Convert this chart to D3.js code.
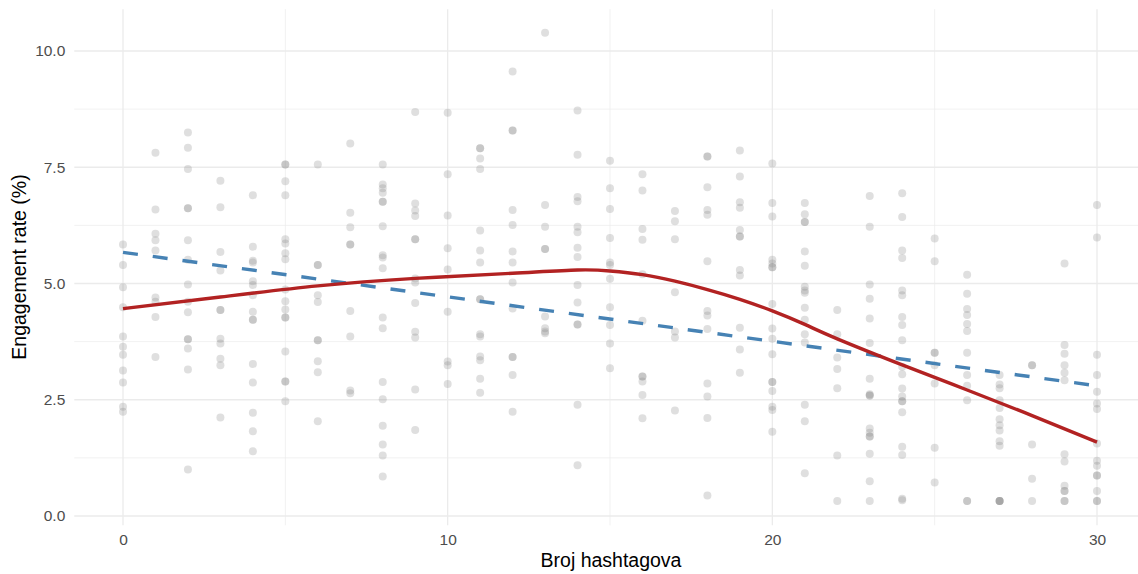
<!DOCTYPE html>
<html lang="hr">
<head>
    <meta charset="UTF-8"/>
    <title>Engagement rate vs broj hashtagova</title>
    <script src="https://d3js.org/d3.v7.min.js" charset="utf-8"></script>
    <style type="text/css">
        body { margin: 0; background: #fff; }
        text { font-family: "Liberation Sans", Arial, sans-serif; }
        .grid line { stroke: #ebebeb; }
        .tick-label { fill: #4d4d4d; font-size: 15.5px; }
        .axis-title { fill: #000; font-size: 19.5px; }
    </style>
</head>
<body>
<svg width="1138" height="574"></svg>

<script type="text/javascript">
    // engagement rate (%) per post, grouped by number of hashtags (index = count)
    var hashtagCounts = d3.range(0, 31);
    var rates = [
        [5.84, 5.40, 4.92, 4.49, 3.86, 3.64, 3.47, 3.13, 2.87, 2.35, 2.24],
        [7.81, 6.59, 6.07, 5.93, 5.71, 4.70, 4.61, 4.28, 3.42],
        [8.25, 7.92, 7.46, 6.62, 6.62, 5.93, 5.51, 4.98, 4.61, 4.38, 3.80, 3.80, 3.60, 3.15, 1.00],
        [7.21, 6.64, 5.68, 5.28, 4.43, 4.43, 3.81, 3.71, 3.38, 3.24, 2.12],
        [6.90, 5.79, 5.49, 5.45, 5.05, 4.97, 4.75, 4.39, 4.22, 4.22, 3.27, 2.87, 2.22, 1.82, 1.39],
        [7.56, 7.56, 7.20, 6.90, 5.95, 5.86, 5.65, 5.52, 4.87, 4.62, 4.44, 4.27, 4.27, 3.54, 2.89, 2.89, 2.47],
        [7.56, 5.40, 5.40, 4.75, 4.60, 3.78, 3.78, 3.33, 3.09, 2.04],
        [8.01, 6.52, 6.21, 5.84, 5.84, 4.41, 3.86, 2.70, 2.64],
        [7.56, 7.13, 7.05, 6.95, 6.76, 6.76, 6.23, 5.61, 5.56, 5.33, 4.27, 4.04, 2.88, 2.51, 1.94, 1.54, 1.30, 0.85],
        [8.69, 6.72, 6.57, 6.45, 5.95, 5.95, 5.11, 5.02, 4.58, 3.96, 3.84, 2.72, 1.85],
        [8.67, 7.35, 6.46, 5.76, 5.30, 4.39, 3.32, 3.24, 2.84],
        [7.91, 7.91, 7.69, 7.46, 6.14, 5.71, 5.45, 4.66, 4.66, 3.91, 3.86, 3.43, 3.35, 2.95, 2.65],
        [9.56, 8.29, 8.29, 6.58, 6.26, 5.69, 5.45, 5.02, 4.46, 3.42, 3.42, 3.03, 2.24],
        [10.39, 6.69, 6.22, 5.74, 5.74, 4.29, 4.04, 3.97, 3.93],
        [8.72, 7.77, 6.86, 6.77, 6.22, 6.10, 5.77, 5.57, 4.97, 4.59, 4.12, 4.12, 2.39, 1.09],
        [7.64, 7.05, 6.60, 5.98, 5.45, 5.40, 5.10, 4.49, 4.11, 3.71, 3.18],
        [7.35, 7.00, 6.17, 5.94, 5.20, 4.20, 3.00, 3.00, 2.89, 2.60, 2.10],
        [6.56, 6.34, 5.95, 4.81, 3.97, 3.84, 2.27],
        [7.73, 7.73, 7.07, 6.58, 6.48, 5.48, 4.41, 4.31, 4.02, 2.85, 2.57, 2.11, 0.44],
        [7.86, 7.30, 6.75, 6.63, 6.15, 6.01, 6.01, 5.29, 5.17, 4.05, 3.58, 3.08],
        [7.58, 6.73, 6.44, 5.51, 5.43, 5.35, 5.35, 4.56, 4.03, 3.81, 3.48, 2.88, 2.88, 2.69, 2.35, 2.28, 1.81],
        [6.73, 6.49, 6.32, 6.32, 5.69, 5.38, 4.93, 4.85, 4.80, 4.48, 4.22, 3.91, 3.73, 2.39, 2.04, 0.92],
        [4.43, 3.91, 3.41, 3.16, 2.75, 1.30, 0.32],
        [6.88, 6.22, 4.98, 4.67, 4.25, 3.72, 2.95, 2.62, 2.59, 2.59, 1.88, 1.79, 1.71, 1.71, 1.34, 0.75, 0.32],
        [6.94, 6.43, 5.71, 5.55, 4.85, 4.75, 4.28, 4.11, 3.78, 3.21, 3.05, 2.74, 2.57, 2.47, 2.47, 2.23, 1.49, 1.31, 0.37, 0.34],
        [5.97, 5.48, 3.51, 3.51, 3.24, 2.85, 1.47, 0.72],
        [5.19, 4.78, 4.45, 4.32, 4.13, 3.98, 3.51, 3.03, 2.80, 2.49, 0.32, 0.32],
        [3.03, 2.83, 2.75, 2.49, 2.32, 2.08, 1.95, 1.84, 1.61, 1.51, 0.32, 0.32, 0.32, 0.32],
        [3.24, 3.24, 1.54, 0.80, 0.32],
        [5.43, 3.68, 3.49, 3.24, 3.08, 2.92, 1.33, 1.17, 0.65, 0.54, 0.54, 0.32, 0.32],
        [6.69, 5.99, 3.47, 3.03, 2.67, 2.42, 2.30, 1.56, 1.19, 1.08, 0.87, 0.87, 0.54, 0.32, 0.32]
    ];

    // smoothed trend
    var smoothX = [0, 3, 6, 9, 12, 14, 15, 16, 17, 18, 19, 20, 21, 22, 24, 26, 28, 30];
    var smoothY = [4.46, 4.71, 4.95, 5.11, 5.22, 5.29, 5.27, 5.19, 5.05, 4.87, 4.66, 4.41, 4.12, 3.81, 3.25, 2.71, 2.16, 1.59];

    // linear fit
    var fitX = [0, 30];
    var fitY = [5.67, 2.80];

    var xTicks = [0, 10, 20, 30];
    var xMinor = [5, 15, 25];
    var yTicks = [0, 2.5, 5, 7.5, 10];
    var yMinor = [1.25, 3.75, 6.25, 8.75];

    var svg = d3.select("svg");

    var x = d3.scaleLinear().domain([0, 30]).range([123, 1097]);
    var y = d3.scaleLinear().domain([0, 10]).range([516, 51]);

    var xLo = -1.5, xHi = 31.5, yLo = -0.2, yHi = 10.9;

    var grid = svg.append("g").attr("class", "grid");

    grid.selectAll(".hmin").data(yMinor).enter().append("line")
        .attr("x1", x(xLo)).attr("x2", x(xHi))
        .attr("y1", function(d) { return y(d); })
        .attr("y2", function(d) { return y(d); })
        .style("stroke-width", 0.7);
    grid.selectAll(".vmin").data(xMinor).enter().append("line")
        .attr("y1", y(yLo)).attr("y2", y(yHi))
        .attr("x1", function(d) { return x(d); })
        .attr("x2", function(d) { return x(d); })
        .style("stroke-width", 0.7);
    grid.selectAll(".hmaj").data(yTicks).enter().append("line")
        .attr("x1", x(xLo)).attr("x2", x(xHi))
        .attr("y1", function(d) { return y(d); })
        .attr("y2", function(d) { return y(d); })
        .style("stroke-width", 1.3);
    grid.selectAll(".vmaj").data(xTicks).enter().append("line")
        .attr("y1", y(yLo)).attr("y2", y(yHi))
        .attr("x1", function(d) { return x(d); })
        .attr("x2", function(d) { return x(d); })
        .style("stroke-width", 1.3);

    // axes (labels only, like theme_minimal)
    var xAxis = svg.append("g")
        .attr("transform", "translate(0," + (y(yLo) + 6) + ")")
        .call(d3.axisBottom(x).tickValues(xTicks).tickSize(0).tickPadding(3));
    var yAxis = svg.append("g")
        .attr("transform", "translate(" + (x(xLo) - 6) + ",0)")
        .call(d3.axisLeft(y).tickValues(yTicks).tickFormat(d3.format(".1f")).tickSize(0).tickPadding(3));
    [xAxis, yAxis].forEach(function(a) {
        a.select(".domain").remove();
        a.attr("font-size", null).attr("font-family", null);
        a.selectAll("text").attr("class", "tick-label");
    });

    // points
    var points = [];
    hashtagCounts.forEach(function(h, i) {
        rates[i].forEach(function(r) { points.push({h: h, r: r}); });
    });
    svg.append("g").selectAll("circle")
        .data(points)
        .enter().append("circle")
        .attr("cx", function(d) { return x(d.h); })
        .attr("cy", function(d) { return y(d.r); })
        .attr("r", 4)
        .attr("fill", "#808080")
        .attr("fill-opacity", 0.25);

    // linear fit, dashed
    var fitLine = d3.line()
        .x(function(d, i) { return x(fitX[i]); })
        .y(function(d) { return y(d); });
    svg.append("path")
        .attr("d", fitLine(fitY))
        .attr("fill", "none")
        .attr("stroke", "#4682b4")
        .attr("stroke-width", 3.4)
        .attr("stroke-dasharray", "15,15");

    // smooth curve
    var smoothLine = d3.line()
        .curve(d3.curveNatural)
        .x(function(d, i) { return x(smoothX[i]); })
        .y(function(d) { return y(d); });
    svg.append("path")
        .attr("d", smoothLine(smoothY))
        .attr("fill", "none")
        .attr("stroke", "#b22222")
        .attr("stroke-width", 3.4);

    // axis titles
    svg.append("text")
        .attr("class", "axis-title")
        .attr("x", 611)
        .attr("y", 567)
        .attr("text-anchor", "middle")
        .text("Broj hashtagova");
    svg.append("text")
        .attr("class", "axis-title")
        .attr("transform", "translate(26,267) rotate(-90)")
        .attr("text-anchor", "middle")
        .text("Engagement rate (%)");
</script>
</body>
</html>
